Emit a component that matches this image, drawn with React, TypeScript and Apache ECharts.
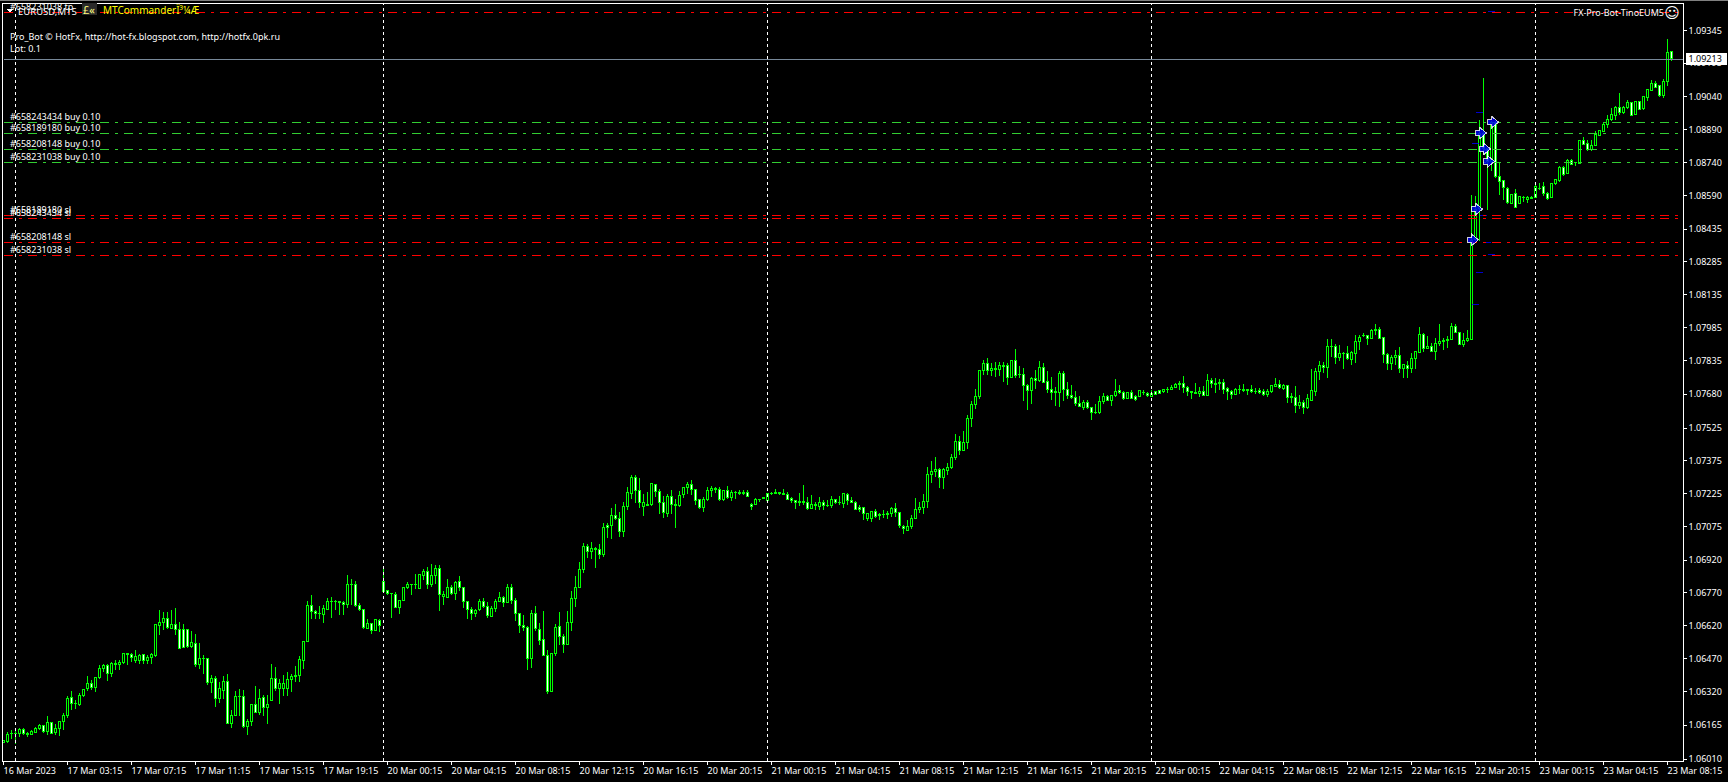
import React, { useEffect, useRef } from "react";
import * as echarts from "echarts";

// Candles as [open, close, low, high] in points (1 point = 0.00001)
const mar16to17: number[][] = [
[106086,106095,106086,106095],[106087,106121,106084,106133],[106124,106126,106102,106141],[106124,106126,106080,106144],[106127,106144,106110,106151],[106144,106124,106118,106151],[106122,106124,106110,106131],[106119,106134,106118,106144],[106131,106147,106128,106156],[106147,106162,106141,106171],
[106161,106133,106128,106167],[106133,106176,106118,106205],[106176,106128,106122,106179],[106131,106147,106118,106168],[106147,106179,106115,106182],[106179,106208,106141,106220],[106206,106287,106197,106296],[106290,106263,106235,106319],[106263,106265,106237,106278],[106257,106299,106252,106312],
[106302,106327,106293,106331],[106330,106353,106321,106388],[106354,106335,106324,106370],[106335,106382,106315,106382],[106382,106425,106376,106438],[106422,106437,106406,106446],[106437,106399,106367,106443],[106399,106448,106385,106454],[106440,106448,106415,106461],[106440,106452,106415,106464],
[106449,106492,106443,106493],[106490,106488,106438,106492],[106486,106474,106454,106495],[106460,106477,106449,106507],[106461,106483,106446,106489],[106487,106460,106443,106489],[106458,106474,106443,106487],[106475,106487,106444,106495],[106481,106625,106477,106625],[106619,106634,106576,106693],
[106632,106652,106599,106683],[106652,106609,106602,106683],[106608,106625,106602,106693],[106625,106602,106576,106698],[106602,106516,106513,106634],[106602,106519,106519,106629],[106603,106524,106519,106606],[106524,106542,106519,106596],[106538,106440,106431,106580],[106440,106469,106423,106538],
[106469,106467,106397,106484],[106469,106357,106347,106469],[106357,106377,106312,106393],[106377,106284,106247,106388],[106284,106331,106266,106362],[106324,106364,106284,106388],[106364,106171,106168,106400],[106171,106208,106151,106232],[106208,106296,106205,106319],[106296,106294,106205,106331],
[106295,106156,106153,106324],[106156,106180,106119,106194],[106179,106260,106159,106263],[106260,106223,106222,106342],[106223,106287,106209,106331],[106289,106247,106205,106301],[106247,106260,106168,106301],[106275,106379,106275,106443],[106379,106330,106321,106428],[106330,106354,106260,106373],
[106331,106354,106296,106393],[106333,106374,106296,106408],[106371,106388,106318,106400],[106388,106390,106362,106434],[106390,106464,106362,106480],[106460,106547,106423,106547],[106547,106712,106547,106733],[106712,106683,106649,106759],[106686,106674,106649,106690],[106674,106676,106648,106709],
[106669,106699,106632,106712],[106693,106730,106690,106748],[106730,106732,106655,106751],[106728,106730,106690,106736],[106727,106729,106670,106733],[106727,106715,106666,106733],[106715,106808,106699,106851],[106808,106806,106712,106835],[106808,106712,106706,106823],[106712,106693,106687,106721],
[106693,106609,106605,106693],[106608,106629,106602,106648],[106629,106596,106583,106632],[106599,106648,106593,106652],[106645,106620,106590,106652],
];
const mar20: number[][] = [
[106822,106774,106771,106886],[106779,106767,106759,106782],[106767,106765,106655,106767],[106762,106701,106698,106774],[106701,106736,106672,106739],[106733,106794,106732,106794],[106793,106808,106787,106820],[106806,106808,106759,106812],[106808,106806,106788,106858],[106790,106855,106787,106858],
[106851,106866,106828,106878],[106866,106807,106787,106888],[106807,106849,106798,106901],[106849,106881,106810,106895],[106881,106761,106688,106895],[106752,106762,106714,106776],[106749,106794,106746,106833],[106794,106765,106761,106805],[106765,106817,106736,106826],[106822,106793,106778,106846],
[106794,106730,106700,106794],[106730,106692,106649,106730],[106694,106674,106645,106703],[106674,106689,106660,106694],[106692,106730,106685,106741],[106730,106706,106701,106746],[106707,106665,106654,106727],[106660,106698,106660,106710],[106697,106730,106681,106741],[106730,106749,106727,106772],
[106749,106724,106704,106756],[106724,106794,106724,106810],[106794,106733,106718,106810],[106735,106674,106642,106746],[106675,106619,106587,106675],[106620,106611,106593,106668],[106611,106468,106416,106620],[106468,106675,106425,106689],[106675,106605,106596,106709],[106602,106550,106530,106630],
[106556,106481,106481,106686],[106483,106317,106307,106507],[106317,106492,106317,106492],[106492,106611,106481,106625],[106616,106568,106530,106681],[106570,106532,106495,106579],[106532,106634,106532,106686],[106633,106744,106596,106776],[106743,106794,106706,106846],[106793,106877,106793,106909],
[106877,106982,106862,106996],[106982,106959,106929,106991],[106958,106973,106924,107002],[106972,106970,106883,106981],[106969,106944,106924,106991],[106944,107069,106935,107088],[107078,107068,107020,107088],[107080,107123,107017,107156],[107123,107109,107103,107176],[107110,107051,107025,107138],
[107049,107166,107025,107184],[107164,107230,107149,107253],[107225,107298,107198,107309],[107298,107237,107179,107309],[107237,107182,107158,107294],[107164,107182,107121,107222],[107169,107173,107167,107230],[107173,107271,107167,107271],[107265,107234,107207,107266],[107234,107182,107130,107243],
[107184,107138,107112,107213],[107133,107211,107118,107222],[107211,107173,107130,107240],[107175,107169,107066,107201],[107169,107216,107162,107236],[107219,107253,107204,107253],[107251,107266,107222,107277],[107266,107242,107219,107286],[107243,107191,107172,107245],[107195,107159,107155,107199],
[107159,107198,107140,107207],[107198,107239,107190,107253],[107236,107248,107207,107259],[107248,107242,107227,107254],[107243,107196,107190,107253],[107196,107237,107190,107240],[107239,107205,107201,107259],[107205,107230,107190,107240],[107230,107228,107199,107237],[107230,107222,107217,107240],
[107231,107222,107217,107240],[107230,107210,107207,107240],
];
const mar21: number[][] = [
[107175,107164,107149,107179],[107175,107198,107172,107202],[107198,107196,107184,107198],[107207,107201,107201,107207],[107190,107225,107190,107225],[107225,107223,107219,107233],[107231,107224,107222,107243],[107230,107224,107217,107231],[107225,107219,107217,107243],[107220,107199,107198,107231],
[107202,107193,107181,107207],[107193,107182,107153,107195],[107188,107182,107167,107225],[107188,107182,107172,107263],[107182,107155,107150,107210],[107155,107173,107152,107217],[107176,107169,107149,107185],[107167,107184,107149,107207],[107184,107168,107149,107193],[107168,107170,107164,107193],
[107168,107197,107158,107211],[107197,107182,107178,107201],[107184,107182,107172,107213],[107178,107222,107156,107225],[107220,107191,107172,107225],[107193,107185,107181,107207],[107185,107150,107149,107188],[107161,107150,107141,107170],[107161,107132,107103,107162],[107109,107132,107097,107132],
[107109,107142,107094,107142],[107142,107118,107112,107153],[107126,107124,107103,107133],[107129,107127,107112,107149],[107132,107130,107107,107142],[107132,107156,107118,107161],[107156,107136,107118,107181],[107138,107077,107066,107138],[107074,107065,107039,107080],[107057,107074,107051,107103],
[107071,107110,107060,107126],[107109,107152,107106,107203],[107150,107161,107133,107185],[107159,107188,107130,107222],[107187,107312,107158,107346],[107310,107324,107274,107373],[107324,107335,107301,107391],[107335,107297,107251,107339],[107297,107335,107246,107341],[107329,107344,107309,107362],
[107343,107390,107338,107404],[107388,107463,107378,107497],[107463,107422,107401,107488],[107420,107459,107420,107510],[107457,107569,107428,107582],[107567,107633,107530,107648],[107631,107668,107611,107703],[107668,107788,107657,107788],[107787,107820,107767,107836],[107820,107787,107767,107846],
[107787,107798,107762,107820],[107793,107798,107758,107824],[107791,107808,107762,107824],[107805,107811,107735,107827],[107811,107755,107721,107820],[107755,107833,107755,107833],[107833,107766,107755,107886],[107769,107767,107753,107808],[107769,107718,107648,107798],[107718,107695,107607,107724],
[107695,107752,107634,107756],[107752,107740,107703,107790],[107740,107802,107735,107831],[107802,107733,107729,107822],[107738,107700,107685,107785],[107701,107686,107653,107758],[107692,107686,107625,107712],[107686,107775,107620,107785],[107775,107701,107648,107785],[107701,107672,107657,107735],
[107674,107663,107657,107721],[107665,107637,107625,107694],[107636,107622,107619,107671],[107620,107642,107607,107653],[107642,107617,107613,107653],[107619,107596,107561,107620],[107596,107594,107590,107636],[107594,107645,107590,107671],[107645,107669,107634,107683],[107669,107649,107648,107674],
[107649,107674,107625,107674],[107674,107692,107666,107749],[107697,107686,107678,107721],[107688,107659,107654,107692],[107659,107688,107656,107689],[107686,107659,107656,107698],
];
const mar22: number[][] = [
[107668,107654,107648,107674],[107668,107697,107668,107698],[107687,107685,107675,107698],[107684,107672,107666,107687],[107670,107684,107670,107698],[107689,107679,107675,107695],[107695,107684,107681,107698],[107690,107701,107682,107702],[107701,107699,107685,107710],[107699,107711,107698,107721],
[107708,107725,107705,107728],[107728,107722,107699,107739],[107728,107708,107685,107762],[107710,107690,107670,107716],[107693,107685,107656,107695],[107687,107681,107679,107731],[107681,107692,107666,107710],[107692,107675,107672,107716],[107675,107742,107672,107771],[107742,107727,107708,107753],
[107728,107721,107685,107753],[107728,107733,107698,107748],[107733,107702,107679,107748],[107705,107690,107652,107710],[107690,107676,107656,107698],[107676,107701,107675,107705],[107701,107699,107679,107721],[107701,107695,107690,107725],[107695,107702,107675,107702],[107701,107690,107682,107721],
[107692,107690,107679,107705],[107696,107685,107681,107705],[107689,107679,107672,107701],[107679,107690,107667,107701],[107689,107718,107685,107721],[107716,107722,107710,107753],[107722,107708,107702,107744],[107707,107719,107698,107725],[107718,107664,107640,107721],[107667,107665,107637,107682],
[107664,107626,107594,107716],[107626,107641,107609,107675],[107641,107617,107589,107652],[107617,107660,107612,107679],[107652,107696,107649,107794],[107692,107783,107670,107797],[107782,107811,107744,107831],[107811,107800,107776,107826],[107800,107898,107754,107931],[107898,107896,107850,107930],
[107898,107846,107818,107908],[107846,107866,107831,107904],[107866,107864,107794,107873],[107864,107841,107835,107899],[107837,107870,107814,107878],[107866,107921,107823,107950],[107919,107939,107882,107950],[107946,107948,107942,107957],[107947,107933,107905,107950],[107933,107971,107930,107976],
[107971,107976,107950,108000],[107974,107933,107930,107985],[107936,107860,107820,107939],[107861,107818,107789,107869],[107817,107847,107789,107858],[107846,107857,107812,107881],[107857,107795,107777,107896],[107794,107815,107754,107817],[107811,107795,107753,107832],[107798,107841,107777,107866],
[107840,107872,107795,107876],[107870,107953,107866,107985],[107954,107889,107870,107957],[107887,107898,107886,107945],[107898,107876,107873,107911],[107876,107911,107835,107937],[107910,107921,107901,108000],[107924,107922,107881,107934],[107925,107927,107892,107945],[107927,107989,107927,108003],
[107989,107960,107957,108000],[107962,107905,107904,107962],[107904,107925,107895,107960],[107924,107934,107919,107973],[107931,108380,107925,108592],[108385,108526,108380,108584],[108530,108874,108378,108935],[108874,108801,108775,109126],[108801,108744,108523,108805],[108744,108924,108698,108930],
[108924,108676,108670,108930],[108676,108653,108592,108741],[108656,108625,108569,108660],[108622,108557,108550,108625],[108553,108593,108550,108596],[108599,108535,108532,108619],[108550,108584,108550,108587],[108578,108580,108557,108584],[108569,108579,108554,108584],[108581,108575,108572,108584],
[108581,108627,108581,108645],
];
const mar23: number[][] = [
[108622,108620,108615,108645],[108627,108596,108584,108648],[108596,108576,108569,108602],[108580,108642,108578,108645],[108641,108659,108638,108663],[108657,108718,108648,108721],[108718,108686,108679,108721],[108688,108747,108685,108755],[108749,108729,108726,108755],[108739,108737,108722,108741],
[108734,108838,108731,108838],[108838,108822,108819,108856],[108824,108798,108790,108844],[108798,108815,108793,108841],[108816,108865,108816,108882],[108862,108885,108859,108890],[108882,108915,108879,108923],[108912,108938,108897,108958],[108938,108957,108928,108989],[108954,108993,108932,108996],
[108993,108966,108958,109057],[108966,108993,108963,108999],[108989,109012,108986,109027],[109012,108955,108951,109016],[108960,109016,108957,109019],[109016,108981,108978,109019],[108984,109039,108978,109042],[109036,109073,109019,109076],[109070,109099,109067,109115],[109099,109083,109079,109114],
[109090,109045,109039,109096],[109044,109112,109033,109122],[109111,109241,109091,109302],[109245,109213,109203,109248],
];

const priceTicks = [1.09345,1.09195,1.0904,1.0889,1.0874,1.0859,1.08435,1.08285,1.08135,1.07985,1.07835,1.0768,1.07525,1.07375,1.07225,1.07075,1.0692,1.0677,1.0662,1.0647,1.0632,1.06165,1.0601];
const timeTicks = ["16 Mar 2023","17 Mar 03:15","17 Mar 07:15","17 Mar 11:15","17 Mar 15:15","17 Mar 19:15","20 Mar 00:15","20 Mar 04:15","20 Mar 08:15","20 Mar 12:15","20 Mar 16:15","20 Mar 20:15","21 Mar 00:15","21 Mar 04:15","21 Mar 08:15","21 Mar 12:15","21 Mar 16:15","21 Mar 20:15","22 Mar 00:15","22 Mar 04:15","22 Mar 08:15","22 Mar 12:15","22 Mar 16:15","22 Mar 20:15","23 Mar 00:15","23 Mar 04:15","23 Mar 08:15"];
const barsPerTick = 16;
const emptyBarsRight = 3;

const sessionBreaks = [3, 95, 191, 287, 383];
const lastPrice = 1.09213;
const buyLevels = [1.08924, 1.08874, 1.08801, 1.08741];
const stopLevels = [1.08498, 1.08486, 1.08375, 1.08315];
const takeProfitLevels = [1.09428];

// Order entry arrows: [bar index, price]
const entryArrows = [[367,1.08385],[368,1.08526],[369,1.08874],[370,1.08801],[371,1.08744],[372,1.08924]];
// Short blue order marks: [bar index, price]
const orderMarks = [[369,1.08966],[368,1.08824],[370,1.08498],[373,1.08485],[371,1.08375],[372,1.08316],[369,1.08237],[368,1.08091],[372,1.09428]];

const orderTexts: [string, number][] = [
  ["#658243434 buy 0.10", 116.5],
  ["#658189180 buy 0.10", 127.5],
  ["#658208148 buy 0.10", 143.5],
  ["#658231038 buy 0.10", 156.5],
  ["#658189180 sl", 209.5],
  ["#658243434 sl", 212],
  ["#658208148 sl", 236.5],
  ["#658231038 sl", 249.5],
  ["#658231038 tp", 6.5],
  ["Pro_Bot © HotFx, http://hot-fx.blogspot.com, http://hotfx.0pk.ru", 36.5],
  ["Lot: 0.1", 48.5],
];

const FONT = '"Noto Sans", sans-serif';
const FS = 9;
const arrowPath = "path://M0,2.5 H4 V0 L10,5 L4,10 V7.5 H0 Z";

export default function App() {
  const ref = useRef<HTMLDivElement>(null);
  useEffect(() => {
    document.body.style.margin = "0";
    document.body.style.background = "#000";
    const chart = echarts.init(ref.current!, null, { renderer: "svg" });
    const candles = [...mar16to17, ...mar20, ...mar21, ...mar22, ...mar23].map((c) => c.map((v) => v / 100000));
    const barCount = candles.length + emptyBarsRight;
    const categories = Array.from({ length: barCount }, (_, i) => (i % barsPerTick === 0 ? timeTicks[i / barsPerTick] ?? `${i}` : `${i}`));
    const isTick = (i: number) => i % barsPerTick === 0;
    const dash = [9, 6, 3, 6];
    const hLine = (v: number, color: string) => ({ yAxis: v, lineStyle: { color, width: 1, type: dash } });

    chart.setOption({
      animation: false,
      backgroundColor: "#000",
      grid: { left: 3.5, right: 44.5, top: 3, bottom: 21, show: false },
      xAxis: {
        type: "category",
        data: categories,
        boundaryGap: false,
        axisLine: { show: false },
        axisTick: { show: true, interval: (i: number) => isTick(i), length: 4, lineStyle: { color: "#fff" } },
        axisLabel: { interval: (i: number) => isTick(i), align: "left", color: "#fff", fontFamily: FONT, fontSize: FS, margin: 5, hideOverlap: false },
        splitLine: { show: false },
      },
      yAxis: {
        type: "value",
        position: "right",
        min: 1.06,
        max: 1.09469,
        scale: true,
        axisLine: { show: false },
        axisTick: { show: true, length: 3, customValues: priceTicks, lineStyle: { color: "#fff" } },
        axisLabel: { customValues: priceTicks, color: "#fff", fontFamily: FONT, fontSize: FS, margin: 5, formatter: (v: number) => v.toFixed(5) },
        splitLine: { show: false },
      },
      series: [
        {
          type: "line",
          data: [],
          z: 1,
          silent: true,
          markLine: {
            silent: true,
            symbol: "none",
            animation: false,
            precision: 5,
            label: { show: false },
            data: [
              ...sessionBreaks.map((i) => ({ xAxis: i, lineStyle: { color: "#fff", width: 1, type: [3, 3] } })),
              ...buyLevels.map((v) => hLine(v, "#32cd32")),
              ...stopLevels.map((v) => hLine(v, "#ff0000")),
              ...takeProfitLevels.map((v) => hLine(v, "#ff0000")),
              {
                yAxis: lastPrice,
                lineStyle: { color: "#778899", width: 1, type: "solid" },
                label: {
                  show: true,
                  position: "end",
                  distance: 2,
                  formatter: lastPrice.toFixed(5),
                  color: "#000",
                  backgroundColor: "#fff",
                  fontFamily: FONT,
                  fontSize: FS,
                  padding: [2, 3, 0, 3],
                  width: 35,
                  height: 10,
                },
              },
            ],
          },
        },
        {
          type: "candlestick",
          data: candles,
          barWidth: 2,
          clip: false,
          itemStyle: { color: "#000", color0: "#fff", borderColor: "#00ff00", borderColor0: "#00ff00", borderWidth: 1 },
          z: 3,
        },
        {
          type: "scatter",
          data: orderMarks,
          symbol: "rect",
          symbolSize: [7, 1],
          itemStyle: { color: "#0000ff" },
          clip: false,
          z: 4,
          silent: true,
        },
        {
          type: "scatter",
          data: entryArrows,
          symbol: arrowPath,
          symbolSize: 11,
          symbolOffset: [1.5, 0],
          itemStyle: { color: "#0000ff", borderColor: "#fff", borderWidth: 1 },
          clip: false,
          z: 5,
          silent: true,
        },
      ],
      graphic: [
        { type: "rect", shape: { x: 0, y: 0, width: 1728, height: 1 }, style: { fill: "#808080" }, z: 10, silent: true },
        { type: "rect", shape: { x: 2.5, y: 3.5, width: 1681, height: 758 }, style: { fill: "none", stroke: "#fff", lineWidth: 1 }, z: 9, silent: true },
        ...orderTexts.map(([t, y]) => ({
          type: "text", x: 10, y, z: 10, silent: true,
          style: { text: t, fill: "#fff", font: `${FS}px ${FONT}`, textVerticalAlign: "middle" },
        })),
        { type: "polygon", shape: { points: [[7, 9], [13, 9], [10, 13]] }, style: { fill: "#fff" }, z: 11, silent: true },
        { type: "text", x: 18, y: 11, z: 11, silent: true, style: { text: "EURUSD,M15", fill: "#fff", font: `9.5px ${FONT}`, textVerticalAlign: "middle" } },
        { type: "rect", shape: { x: 82, y: 3, width: 15, height: 12 }, style: { fill: "#2a2a2a" }, z: 10, silent: true },
        { type: "text", x: 83, y: 9.5, z: 11, silent: true, style: { text: "£«", fill: "#ffff80", font: `11px ${FONT}`, textVerticalAlign: "middle" } },
        { type: "text", x: 103, y: 9.5, z: 11, silent: true, style: { text: "MTCommanderÏ³¼Æ", fill: "#ffff00", font: `10px ${FONT}`, textVerticalAlign: "middle" } },
        { type: "text", x: 1664, y: 12.5, z: 11, silent: true, style: { text: "FX-Pro-Bot-TinoEUM5", fill: "#fff", font: `${FS}px ${FONT}`, textAlign: "right", textVerticalAlign: "middle" } },
        { type: "text", x: 1672, y: 12.5, z: 11, silent: true, style: { text: "☺", fill: "#fff", font: `15px "DejaVu Sans"`, textAlign: "center", textVerticalAlign: "middle" } },
      ],
    });
    return () => chart.dispose();
  }, []);
  return (
    <>
      <style>{`svg path { shape-rendering: crispEdges; }`}</style>
      <div ref={ref} style={{ position: "absolute", left: 0, top: 0, width: 1728, height: 782 }} />
    </>
  );
}
